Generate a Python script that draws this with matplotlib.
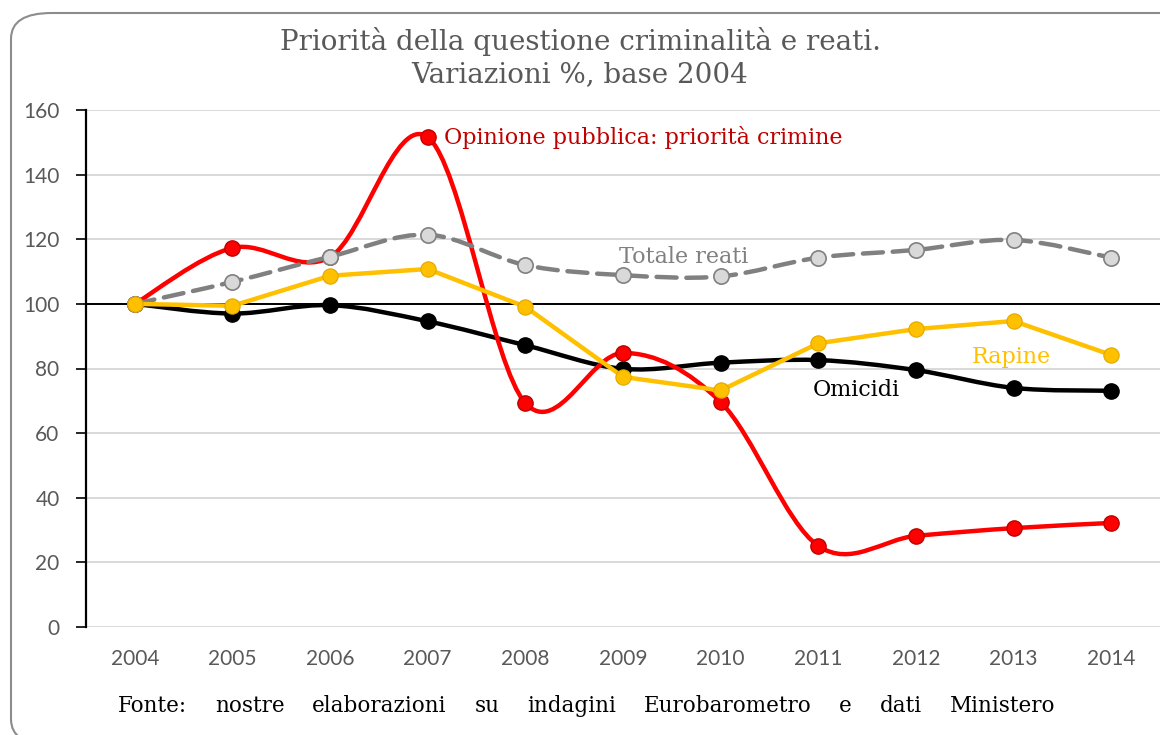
import matplotlib
matplotlib.use("Agg")
import matplotlib.pyplot as plt
from matplotlib.path import Path
from matplotlib.patches import PathPatch, FancyBboxPatch

years = [2004, 2005, 2006, 2007, 2008, 2009, 2010, 2011, 2012, 2013, 2014]
opinione = [100, 117.3, 114.5, 151.6, 69.3, 84.8, 69.6, 25.1, 28.2, 30.6, 32.2]
totale = [100, 106.8, 114.6, 121.4, 112.0, 108.9, 108.5, 114.3, 116.7, 119.8, 114.3]
rapine = [100, 99.4, 108.7, 110.8, 99.1, 77.4, 73.2, 87.8, 92.2, 94.7, 84.2]
omicidi = [100, 97.0, 99.6, 94.6, 87.2, 79.9, 81.8, 82.6, 79.5, 74.0, 73.1]

title_lines = ["Priorità della questione criminalità e reati.", "Variazioni %, base 2004"]
source_words = ["Fonte:", "nostre", "elaborazioni", "su", "indagini",
                "Eurobarometro", "e", "dati", "Ministero"]

SERIF = "DejaVu Serif"
SANS = "Lato"
LW = 3.2
MS = 11


def smooth_path(xs, ys):
    # Excel-style smoothed line: cubic Bezier through the points
    pts = list(zip(xs, ys))
    n = len(pts)
    verts = [pts[0]]
    codes = [Path.MOVETO]
    for i in range(n - 1):
        p0 = pts[i - 1] if i > 0 else pts[i]
        p1 = pts[i]
        p2 = pts[i + 1]
        p3 = pts[i + 2] if i + 2 < n else pts[i + 1]
        c1 = (p1[0] + (p2[0] - p0[0]) / 6, p1[1] + (p2[1] - p0[1]) / 6)
        c2 = (p2[0] - (p3[0] - p1[0]) / 6, p2[1] - (p3[1] - p1[1]) / 6)
        verts += [c1, c2, p2]
        codes += [Path.CURVE4] * 3
    return Path(verts, codes)


def add_smooth(ax, xs, ys, color, z, ls="-"):
    patch = PathPatch(smooth_path(xs, ys), facecolor="none", edgecolor=color,
                      lw=LW, zorder=z, capstyle="round", joinstyle="round")
    patch.set_linestyle(ls)
    ax.add_patch(patch)


fig = plt.figure(figsize=(11.6, 7.35), dpi=100)
W, H = 1160, 735

# rounded frame around the chart
frame = FancyBboxPatch((11 / W, -10 / H), 1.2, (735 - 13 + 10) / H,
                       boxstyle="round,pad=0,rounding_size=0.035",
                       transform=fig.transFigure, facecolor="none",
                       edgecolor="#8c8c8c", lw=1.5, zorder=-1)
fig.patches.append(frame)

ax = fig.add_axes([86 / W, (H - 627) / H, (1160 - 86) / W, (627 - 110) / H])
ax.set_facecolor("none")
ax.set_xlim(2003.5, 2014.5)
ax.set_ylim(0, 160)

for s in ["top", "right", "bottom"]:
    ax.spines[s].set_visible(False)
ax.spines["left"].set_color("black")
ax.spines["left"].set_linewidth(1.6)
ax.spines["left"].set_zorder(6)

ax.set_yticks(range(0, 161, 20))
ax.yaxis.grid(True, color="#d9d9d9", lw=1.4)
ax.set_axisbelow(True)
ax.tick_params(axis="y", direction="out", length=7, width=1.2, color="black",
               labelsize=15, labelcolor="#595959", pad=12)
ax.set_xticks(years)
ax.tick_params(axis="x", length=0, labelsize=15, labelcolor="#595959", pad=16)
for lab in ax.get_xticklabels() + ax.get_yticklabels():
    lab.set_fontfamily(SANS)

ax.axhline(100, color="black", lw=1.4, zorder=1)

# lines
add_smooth(ax, years, omicidi, "black", 2)
ax.plot(years, omicidi, "o", ms=MS, color="black", zorder=2.1)

add_smooth(ax, years, opinione, "#ff0000", 3)
ax.plot(years, opinione, "o", ms=MS, mfc="#ff0000", mec="#c00000", mew=1,
        zorder=3.1)

add_smooth(ax, years, totale, "#808080", 4, ls=(0, (4.5, 2.2)))
ax.plot(years, totale, "o", ms=MS, mfc="#d9d9d9", mec="#808080", mew=1.2,
        zorder=4.1)

ax.plot(years, rapine, "-", lw=LW, color="#ffc000", zorder=5)
ax.plot(years, rapine, "o", ms=MS, mfc="#ffc000", mec="#e0a800", mew=0.8,
        zorder=5.1)

# series labels
ax.annotate("Opinione pubblica: priorità crimine", (2007, opinione[3]),
            xytext=(12, 0), textcoords="offset points", va="center",
            fontsize=16, color="#c00000", family=SERIF)
ax.text(2008.96, 114.6, "Totale reati", fontsize=16, color="#808080",
        family=SERIF, va="center")
ax.text(2012.57, 83.6, "Rapine", fontsize=16, color="#ffc000",
        family=SERIF, va="center")
ax.text(2010.94, 73.3, "Omicidi", fontsize=16, color="black",
        family=SERIF, va="center")

fig.text(0.5, 1 - 42 / H, title_lines[0], ha="center", va="center",
         fontsize=20, color="#595959", family=SERIF)
fig.text(0.5, 1 - 75 / H, title_lines[1], ha="center", va="center",
         fontsize=20, color="#595959", family=SERIF)

# justified source line
renderer = fig.canvas.get_renderer()
x0, x1, yb = 118, 1055, H - 706
txts = [fig.text(0, yb / H, w, fontsize=15.5, family=SERIF, color="black",
                 va="center") for w in source_words]
widths = [t.get_window_extent(renderer).width for t in txts]
gap = (x1 - x0 - sum(widths)) / (len(txts) - 1)
x = x0
for t, w in zip(txts, widths):
    t.set_x(x / W)
    x += w + gap

fig.savefig("out.png", dpi=100)
